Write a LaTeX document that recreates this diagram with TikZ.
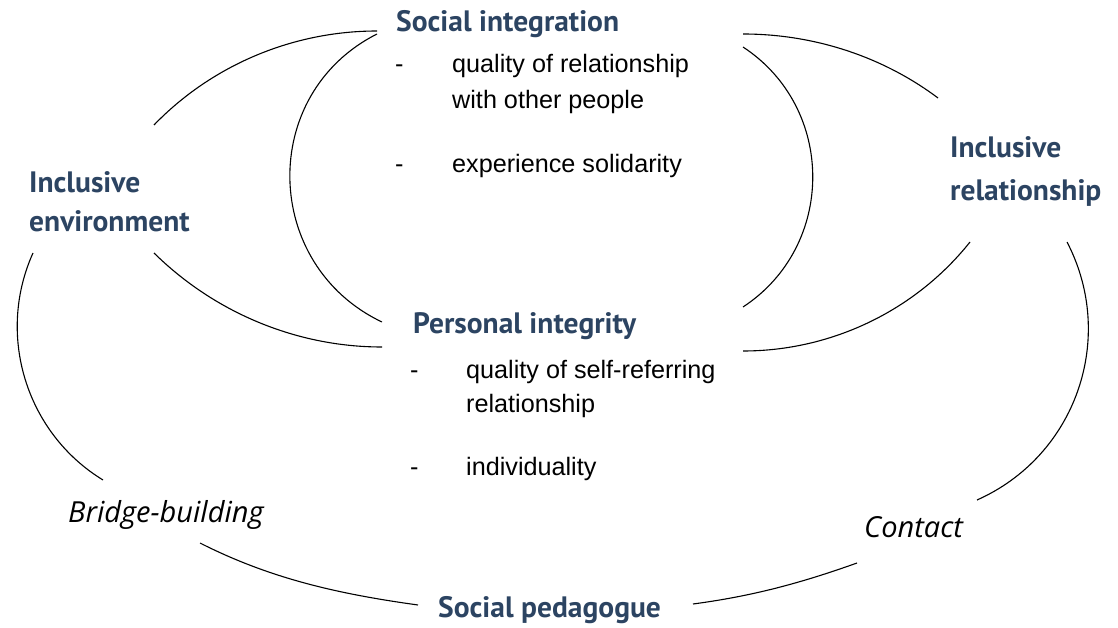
\documentclass[tikz,border=0pt]{standalone}
\usepackage{fontspec}
\setmainfont{Liberation Sans}
\newfontfamily\headfont{PT Sans}
\newfontfamily\handfont{Open Sans}
\definecolor{headblue}{RGB}{44,68,98}

\tikzset{
  head/.style={anchor=base west, inner sep=0pt, text=headblue, font=\headfont\bfseries\fontsize{29.5}{32}\selectfont},
  item/.style={anchor=base west, inner sep=0pt, font=\fontsize{25.2}{30}\selectfont},
  hand/.style={anchor=base west, inner sep=0pt, font=\handfont\itshape\fontsize{29}{32}\selectfont},
  arc/.style={draw=black, line width=1.1pt}
}

\begin{document}
\begin{tikzpicture}[x=1pt,y=1pt,yscale=-1]
	\useasboundingbox (0,0) rectangle (1118,628);

	% Headings
	\node[head] (si) at (396,32) {Social integration};
	\node[head] (pi) at (413,333) {Personal integrity};
	\node[head] (ie) at (29,193) {Inclusive};
	\node[head] (ie2) at (29,232) {environment};
	\node[head] (ir) at (950,158) {Inclusive};
	\node[head] (ir2) at (950,201) {relationship};
	\node[head] (sp) at (438,617) {Social pedagogue};

	% Items under "Social integration"
	\node[item] (sid1) at (395,73) {-};
	\node[item] (si1) at (452,73) {quality of relationship};
	\node[item] (si1b) at (452,109) {with other people};
	\node[item] (sid2) at (395,173) {-};
	\node[item] (si2) at (452,173) {experience solidarity};

	% Items under "Personal integrity"
	\node[item] (pid1) at (410,378) {-};
	\node[item] (pi1) at (466,378) {quality of self-referring};
	\node[item] (pi1b) at (466,412) {relationship};
	\node[item] (pid2) at (410,475) {-};
	\node[item] (pi2) at (466,475) {individuality};

	% Italic labels on the outer ring
	\node[hand] (bb) at (68,522) {Bridge-building};
	\node[hand] (ct) at (864,537) {Contact};

	% Ends of the arcs
	\coordinate (ie top) at (154,125);
	\coordinate (si left) at (377,31);
	\coordinate (si left2) at (377,34);
	\coordinate (pi left2) at (382,322);
	\coordinate (ie bot) at (154,253);
	\coordinate (pi left) at (382,347);
	\coordinate (si right) at (743,34);
	\coordinate (si right2) at (743,47);
	\coordinate (ir top) at (938,98);
	\coordinate (pi right2) at (743,307);
	\coordinate (ir bot) at (970,242);
	\coordinate (pi right) at (743,351);
	\coordinate (ie out) at (33,253);
	\coordinate (bb top) at (103,480);
	\coordinate (ir out) at (1067,242);
	\coordinate (ct top) at (977,500);
	\coordinate (bb bot) at (200,543);
	\coordinate (sp left) at (418,605);
	\coordinate (sp right) at (693,604);
	\coordinate (ct bot) at (857,563);

	% Left crescent
	\draw[arc] (ie top) .. controls +(58,-60) and +(-84,0) .. (si left);
	\draw[arc] (si left2) .. controls +(-119,60) and +(-120,-57) .. (pi left2);
	\draw[arc] (ie bot) .. controls +(61,60) and +(-85,0) .. (pi left);

	% Right crescent
	\draw[arc] (si right) .. controls +(70,0) and +(-56,-42) .. (ir top);
	\draw[arc] (si right2) .. controls +(93,61) and +(93,-61) .. (pi right2);
	\draw[arc] (ir bot) .. controls +(-55,69) and +(88,0) .. (pi right);

	% Outer ring
	\draw[arc] (ie out) .. controls +(-37,82) and +(-77,-47) .. (bb top);
	\draw[arc] (ir out) .. controls +(50,96) and +(99,-44) .. (ct top);
	\draw[arc] (bb bot) .. controls +(71,36) and +(-79,-11) .. (sp left);
	\draw[arc] (sp right) .. controls +(60,-8) and +(-56,20) .. (ct bot);
\end{tikzpicture}
\end{document}
